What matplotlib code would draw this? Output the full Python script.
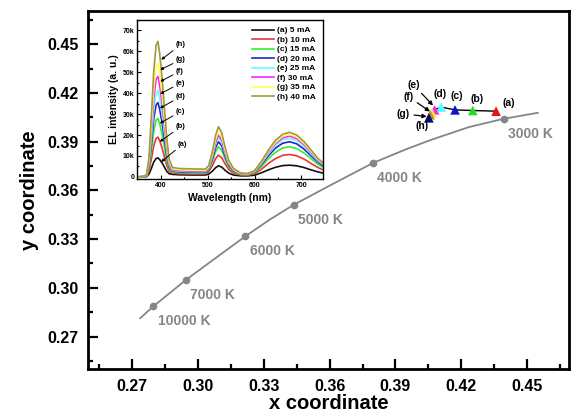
import numpy as np
import matplotlib
matplotlib.use("Agg")
import matplotlib.pyplot as plt
from matplotlib.ticker import MultipleLocator, FuncFormatter

plt.rcParams['font.family'] = ['Liberation Sans', 'DejaVu Sans']
plt.rcParams['font.weight'] = 'bold'

# Planckian locus
locus_x = [0.2738, 0.2798, 0.2867, 0.2946, 0.3135, 0.3217, 0.3325, 0.3436,
           0.3608, 0.3799, 0.3946, 0.4053, 0.4234, 0.4392, 0.4548]
locus_y = [0.2813, 0.2887, 0.2962, 0.3049, 0.3237, 0.3318, 0.3418, 0.3511,
           0.3635, 0.3770, 0.3852, 0.3907, 0.3990, 0.4041, 0.4078]
cct_labels = ['10000 K', '7000 K', '6000 K', '5000 K', '4000 K', '3000 K']
cct_x = [0.2798, 0.2946, 0.3217, 0.3436, 0.3799, 0.4392]
cct_y = [0.2887, 0.3049, 0.3318, 0.3511, 0.3770, 0.4041]

# CIE points of the device at each current
pt_names = ['(a)', '(b)', '(c)', '(d)', '(e)', '(f)', '(g)', '(h)']
pt_x = [0.4358, 0.4252, 0.4171, 0.4108, 0.4078, 0.4066, 0.4058, 0.4052]
pt_y = [0.4088, 0.4092, 0.4096, 0.4113, 0.4096, 0.4078, 0.4066, 0.4047]
pt_colors = ['#ee1111', '#22dd22', '#1111cc', '#55ffff', '#ff22ff', '#ffee22', '#b09a30', '#0a0a70']

# inset EL spectra (intensity in thousands of counts)
currents = ['(a) 5 mA', '(b) 10 mA', '(c) 15 mA', '(d) 20 mA',
            '(e) 25 mA', '(f) 30 mA', '(g) 35 mA', '(h) 40 mA']
spec_colors = ['#111111', '#ee3333', '#33ee33', '#2222cc', '#66ffff', '#ff22ff', '#ffff55', '#a09a3a']
wl = [350, 365, 370, 375, 380, 385, 390, 394, 398, 403, 408, 413, 418, 425, 440, 470, 495,
      502, 510, 517, 523, 530, 537, 545, 555, 570, 585, 600, 615, 630, 645, 660, 675,
      690, 705, 720, 735, 745]
el_a = [0, 0.05, 0.2, 1.4, 4.1, 7.1, 8.8, 9.1, 8.2, 6.6, 4.6, 2.6, 1.5, 1.2, 1.0, 0.9, 0.9,
        1.3, 2.7, 4.4, 5.3, 4.7, 3.2, 1.8, 0.9, 0.5, 0.5, 0.8, 2.0, 3.4, 4.6, 5.4, 5.6,
        5.3, 4.5, 3.4, 2.4, 1.9]
el_b = [0, 0.1, 0.4, 2.9, 8.6, 14.8, 18.4, 19.0, 17.1, 13.7, 9.5, 5.3, 2.6, 1.8, 1.5, 1.4, 1.4,
        2.4, 5.3, 8.7, 10.4, 9.2, 6.3, 3.5, 1.8, 0.9, 0.8, 1.5, 3.7, 6.5, 8.8, 10.3, 10.7,
        10.1, 8.6, 6.5, 4.5, 3.5]
el_c = [0, 0.14, 0.56, 4.2, 12.6, 21.8, 27.2, 28.0, 25.2, 20.2, 14.0, 7.8, 3.6, 2.4, 2.0, 1.9, 1.9,
        3.2, 7.3, 12.0, 14.4, 12.7, 8.6, 4.8, 2.4, 1.2, 1.0, 2.0, 5.0, 8.8, 11.8, 13.8, 14.4,
        13.5, 11.5, 8.8, 6.0, 4.8]
el_d = [0, 0.18, 0.7, 5.3, 16.0, 27.7, 34.4, 35.5, 32.0, 25.6, 17.8, 9.9, 4.6, 2.8, 2.4, 2.2, 2.2,
        3.7, 8.5, 14.0, 16.8, 14.8, 10.1, 5.5, 2.9, 1.4, 1.2, 2.4, 5.9, 10.2, 13.8, 16.1, 16.8,
        15.8, 13.4, 10.2, 7.1, 5.5]
el_e = [0, 0.2, 0.8, 6.2, 18.6, 32.2, 40.1, 41.3, 37.2, 29.7, 20.7, 11.6, 5.4, 3.1, 2.7, 2.5, 2.5,
        4.1, 9.5, 15.7, 18.9, 16.6, 11.3, 6.2, 3.2, 1.5, 1.3, 2.6, 6.4, 11.2, 15.1, 17.7, 18.4,
        17.3, 14.7, 11.2, 7.7, 6.1]
el_f = [0, 0.24, 1.0, 7.2, 21.6, 37.4, 46.6, 48.0, 43.2, 34.6, 24.0, 13.4, 6.2, 3.5, 3.0, 2.8, 2.8,
        4.4, 10.0, 16.6, 20.0, 17.6, 12.0, 6.6, 3.4, 1.6, 1.4, 2.7, 6.8, 11.9, 16.0, 18.7, 19.5,
        18.3, 15.6, 11.9, 8.2, 6.4]
el_g = [0, 0.27, 1.1, 8.2, 24.5, 42.4, 52.8, 54.4, 49.0, 39.2, 27.2, 15.2, 7.1, 3.9, 3.4, 3.2, 3.1,
        4.7, 10.8, 17.9, 21.6, 19.0, 13.0, 7.1, 3.7, 1.7, 1.5, 2.8, 7.1, 12.4, 16.6, 19.5, 20.3,
        19.1, 16.2, 12.4, 8.5, 6.7]
el_h = [0, 0.32, 1.3, 9.7, 29.2, 50.5, 62.9, 64.8, 58.3, 46.7, 32.4, 18.1, 8.4, 4.5, 4.0, 3.8, 3.7,
        5.3, 12.0, 19.9, 24.0, 21.1, 14.4, 7.9, 4.1, 1.9, 1.6, 3.0, 7.5, 13.0, 17.5, 20.4, 21.3,
        20.0, 17.0, 13.0, 8.9, 7.0]
spectra = [el_a, el_b, el_c, el_d, el_e, el_f, el_g, el_h]

fig = plt.figure(figsize=(5.71, 4.18), dpi=100)
ax = fig.add_axes([0.1541, 0.1172, 0.8424, 0.8565])

ax.plot(locus_x, locus_y, color='#858585', lw=1.3, zorder=2)
ax.plot(cct_x, cct_y, 'o', color='#858585', ms=4.5, zorder=3)
for lab, x, y in zip(cct_labels, cct_x, cct_y):
    ax.annotate(lab, (x, y), xytext=(3, -11), textcoords='offset points',
                ha='left', va='center', color='#858585', fontsize=10, fontweight='bold')

ax.plot(pt_x, pt_y, color='black', lw=1.0, zorder=3)
ax.scatter(pt_x, pt_y, marker='^', s=48, c=pt_colors, zorder=4, linewidths=0)

# labels of the CIE points
ax.text(0.4414, 0.4137, '(a)', fontsize=7.5, ha='center', va='center')
ax.text(0.4270, 0.4164, '(b)', fontsize=7.5, ha='center', va='center')
ax.text(0.4179, 0.4180, '(c)', fontsize=7.5, ha='center', va='center')
ax.text(0.4103, 0.4191, '(d)', fontsize=7.5, ha='center', va='center')
ax.text(0.4019, 0.3999, '(h)', fontsize=7.5, ha='center', va='center')
arrow = dict(arrowstyle='-|>', color='black', lw=0.9, mutation_scale=6, shrinkA=1, shrinkB=0)
ax.annotate('(e)', (0.4071, 0.4123), xytext=(0.3981, 0.4252), fontsize=7.5,
            ha='center', va='center', arrowprops=arrow)
ax.annotate('(f)', (0.4057, 0.4086), xytext=(0.3958, 0.4178), fontsize=7.5,
            ha='center', va='center', arrowprops=arrow)
ax.annotate('(g)', (0.4042, 0.4055), xytext=(0.3936, 0.4072), fontsize=7.5,
            ha='center', va='center', arrowprops=arrow)

ax.set_xlim(0.25, 0.469)
ax.set_ylim(0.25, 0.4705)
ax.xaxis.set_minor_locator(MultipleLocator(0.015))
ax.yaxis.set_minor_locator(MultipleLocator(0.015))
ax.set_xticks(np.arange(0.27, 0.46, 0.03))
ax.set_yticks(np.arange(0.27, 0.46, 0.03))
ax.xaxis.set_major_formatter(FuncFormatter(lambda v, p: f'{v:.2f}'))
ax.yaxis.set_major_formatter(FuncFormatter(lambda v, p: f'{v:.2f}'))
ax.tick_params(which='both', direction='in', width=1.6, labelsize=11.5)
ax.tick_params(which='major', length=7, pad=7)
ax.tick_params(which='minor', length=3.5)
for sp in ax.spines.values():
    sp.set_linewidth(2)
ax.set_xlabel('x coordinate', fontsize=14.5, fontweight='bold', labelpad=0)
ax.set_ylabel('y coordinate', fontsize=14.5, fontweight='bold', labelpad=6)

# inset with the EL spectra
ins = fig.add_axes([0.2405, 0.5718, 0.3243, 0.3804])
for lab, col, s in zip(currents, spec_colors, spectra):
    ins.plot(wl, np.array(s) * 1000, color=col, lw=1.2, label=lab)
ins.set_xlim(350, 745)
ins.set_ylim(-1000, 75000)
ins.set_xticks([400, 500, 600, 700])
ins.xaxis.set_minor_locator(MultipleLocator(50))
ins.set_yticks(np.arange(0, 70001, 10000))
ins.yaxis.set_minor_locator(MultipleLocator(5000))
ins.yaxis.set_major_formatter(FuncFormatter(lambda v, p: '0' if v == 0 else f'{int(v / 1000)}k'))
ins.tick_params(which='both', direction='in', labelsize=5, width=0.8, pad=2)
ins.tick_params(which='major', length=3)
ins.tick_params(which='minor', length=1.5)
for sp in ins.spines.values():
    sp.set_linewidth(1)
ins.set_xlabel('Wavelength (nm)', fontsize=7.5, fontweight='bold', labelpad=3)
ins.set_ylabel('EL intensity (a. u.)', fontsize=7.5, fontweight='bold', labelpad=3)
ins.legend(loc='upper right', fontsize=6, frameon=False, handlelength=2.6,
           labelspacing=0.2, borderaxespad=0.4, handletextpad=0.4)

# peak labels in the inset
peak_tips = [(401, 7200), (398, 16800), (398, 25600), (398, 32800),
             (399, 39700), (399, 45600), (399, 51200), (401, 56000)]
label_pos = [(437, 15700), (432, 24000), (432, 31200), (432, 38400),
             (432, 44800), (432, 50400), (432, 56000), (432, 63200)]
ins_arrow = dict(arrowstyle='-|>', color='black', lw=0.7, mutation_scale=4, shrinkA=0, shrinkB=0)
for name, tip, pos in zip(pt_names, peak_tips, label_pos):
    ins.annotate(name, tip, xytext=pos, fontsize=5.5, ha='left', va='center',
                 arrowprops=ins_arrow)

fig.savefig('out.png', dpi=100)
